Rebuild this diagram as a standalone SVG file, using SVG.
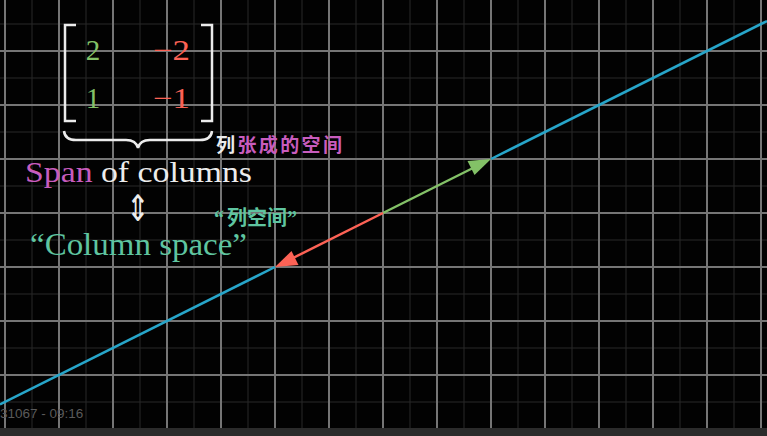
<svg xmlns="http://www.w3.org/2000/svg" width="767" height="436" viewBox="0 0 767 436">
<defs>
<style>
.minor{stroke:#282828;stroke-width:1}
.major{stroke:#757575;stroke-width:2}
.serif{font-family:"Liberation Serif","DejaVu Serif",serif}
.cjk{font-family:"Noto Sans CJK SC","Noto Sans",sans-serif;font-weight:bold}
.white{fill:#ececec}
.green{fill:#83c167}
.red{fill:#fc6255}
.magenta{fill:#c85cbd}
.teal{fill:#5fc5a0}
</style>
</defs>
<rect x="0" y="0" width="767" height="436" fill="#020202"/>
<g id="grid">
<g class="minor">
<path d="M32 0V436M86 0V436M140 0V436M194 0V436M248 0V436M302 0V436M356 0V436M410 0V436M464 0V436M518 0V436M572 0V436M626 0V436M680 0V436M734 0V436"/>
<path d="M0 24H767M0 78H767M0 132H767M0 186H767M0 240H767M0 294H767M0 348H767M0 402H767"/>
</g>
<g class="major">
<path d="M5 0V436M59 0V436M113 0V436M167 0V436M221 0V436M275 0V436M329 0V436M383 0V436M437 0V436M491 0V436M545 0V436M599 0V436M653 0V436M707 0V436M761 0V436"/>
<path d="M0 51H767M0 105H767M0 159H767M0 213H767M0 267H767M0 321H767M0 375H767M0 429H767"/>
</g>
</g>
<g id="connectors">
<path d="M0 404.5L275 267M491 159L767 21" stroke="#27a5c9" stroke-width="2.5" fill="none"/>
<g id="vec-green">
<path d="M383 213L478 165.5" stroke="#83c167" stroke-width="2.5"/>
<polygon points="491,159 474.5,175 467.5,161" fill="#83c167"/>
</g>
<g id="vec-red">
<path d="M383 213L288 260.5" stroke="#fc6255" stroke-width="2.5"/>
<polygon points="275,267 291.5,251 298.5,265" fill="#fc6255"/>
</g>
</g>
<g id="matrix">
<path d="M76 25H65V121H76M201 25H212V121H201" stroke="#ececec" stroke-width="2.5" fill="none"/>
<text class="serif green" x="93" y="60" font-size="29" text-anchor="middle">2</text>
<text class="serif red" x="153" y="60" font-size="29" textLength="37" lengthAdjust="spacingAndGlyphs">−2</text>
<text class="serif green" x="93" y="108" font-size="29" text-anchor="middle">1</text>
<text class="serif red" x="153" y="108" font-size="29" textLength="37" lengthAdjust="spacingAndGlyphs">−1</text>
</g>
<g id="brace">
<path d="M64 131Q65 140 76 140H126Q136 140 138 148Q140 140 150 140H200Q211 140 212 131" stroke="#ececec" stroke-width="2.5" fill="none"/>
</g>
<g id="label-span-cn">
<text class="cjk" x="216" y="152" font-size="19" textLength="126" lengthAdjust="spacing"><tspan class="white">列</tspan><tspan class="magenta">张成的空间</tspan></text>
</g>
<g id="label-span">
<text class="serif" x="25" y="182" font-size="30" textLength="227" lengthAdjust="spacingAndGlyphs"><tspan class="magenta">Span</tspan><tspan class="white"> of columns</tspan></text>
</g>
<g id="equiv">
<text transform="translate(138,221) scale(1,1.3)" x="0" y="0" font-size="28" text-anchor="middle" fill="#ececec" font-family="DejaVu Sans,sans-serif">⇕</text>
</g>
<g id="label-colspace">
<text class="serif teal" x="30" y="255" font-size="31" textLength="217" lengthAdjust="spacingAndGlyphs">“Column space”</text>
</g>
<g id="label-colspace-cn">
<text class="cjk teal" y="225" font-size="20"><tspan x="214" font-family="Liberation Serif,serif">“</tspan><tspan x="227">列空间</tspan><tspan x="287" font-family="Liberation Serif,serif">”</tspan></text>
</g>
<g id="footer">
<rect x="0" y="428" width="767" height="8" fill="#2b2b2b"/>
<text x="0" y="418" font-size="13.5" fill="#5a5a5a" font-family="Liberation Sans,sans-serif">31067 - 09:16</text>
</g>
</svg>
